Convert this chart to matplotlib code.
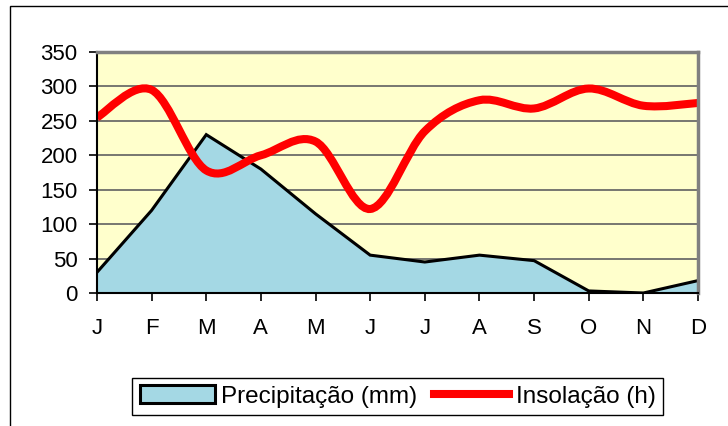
# climate chart: monthly precipitation (area) and insolation (smoothed line)

import matplotlib
matplotlib.use('Agg')
import matplotlib.pyplot as plt
from matplotlib.path import Path
from matplotlib.patches import PathPatch, Patch, Rectangle
from matplotlib.lines import Line2D
import numpy as np


# data
# ---

months = ['J', 'F', 'M', 'A', 'M', 'J', 'J', 'A', 'S', 'O', 'N', 'D']
precip = [30, 120, 230, 180, 115, 55, 45, 55, 47, 3, 0, 18]
insol = [255, 295, 178, 200, 220, 122, 235, 280, 268, 297, 272, 276]
yticks = [0, 50, 100, 150, 200, 250, 300, 350]

plt.rcParams['font.family'] = ['Liberation Sans', 'DejaVu Sans']

fig = plt.figure(figsize=(7.28, 4.26), dpi=100)
ax = fig.add_axes([0.1332, 0.3122, 0.8256, 0.5657])
ax.set_facecolor('#ffffcc')

x = np.arange(len(months))

# horizontal grid
for yv in yticks[1:-1]:
    ax.axhline(yv, color='#606060', lw=1.2, zorder=1)

# precipitation area
ax.fill_between(x, precip, 0, color='#a4d8e4', zorder=2)
ax.plot(x, precip, color='black', lw=2.2, zorder=3, solid_joinstyle='miter')

# insolation smoothed line (bezier through the points, like the spreadsheet smoothing)
pts = np.column_stack([x, insol]).astype(float)
verts = [pts[0]]
codes = [Path.MOVETO]
n = len(pts)
for i in range(n - 1):
    p0 = pts[max(i - 1, 0)]
    p1 = pts[i]
    p2 = pts[i + 1]
    p3 = pts[min(i + 2, n - 1)]
    verts += [p1 + (p2 - p0) / 6.0, p2 - (p3 - p1) / 6.0, p2]
    codes += [Path.CURVE4] * 3
ax.add_patch(PathPatch(Path(verts, codes), facecolor='none', edgecolor='#ff0000',
                       lw=5.8, zorder=4, capstyle='butt'))

ax.set_xlim(0, 11)
ax.set_ylim(0, 350)
ax.set_yticks(yticks)
ax.set_xticks(x)
ax.set_xticklabels(months)
ax.tick_params(axis='x', length=6, width=1.2, pad=12, labelsize=16)
ax.tick_params(axis='y', length=6, width=1.2, pad=8, labelsize=16)

ax.spines['left'].set_color('black')
ax.spines['bottom'].set_color('black')
ax.spines['left'].set_linewidth(1.5)
ax.spines['bottom'].set_linewidth(1.5)
ax.spines['top'].set_color('#808080')
ax.spines['right'].set_color('#808080')
ax.spines['top'].set_linewidth(2.5)
ax.spines['right'].set_linewidth(2.5)
for sp in ax.spines.values():
    sp.set_zorder(5)

# legend
handles = [Patch(facecolor='#a4d8e4', edgecolor='black', lw=2.2),
           Line2D([0], [0], color='#ff0000', lw=5.8)]
leg = fig.legend(handles, ['Precipitação (mm)', 'Insolação (h)'], ncol=2,
                 loc='center', bbox_to_anchor=(0.546, 0.069), fontsize=17.5,
                 fancybox=False, edgecolor='black', framealpha=1,
                 handlelength=3.1, handleheight=0.75, columnspacing=0.7,
                 handletextpad=0.25, borderpad=0.3, borderaxespad=0)
leg.get_frame().set_linewidth(1.0)

# outer chart border
fig.patches.append(Rectangle((10 / 728, -0.1), 1.1, (426 - 6) / 426 + 0.1,
                             transform=fig.transFigure, fill=False,
                             edgecolor='black', lw=1.0))

fig.savefig('out.png', dpi=100)
